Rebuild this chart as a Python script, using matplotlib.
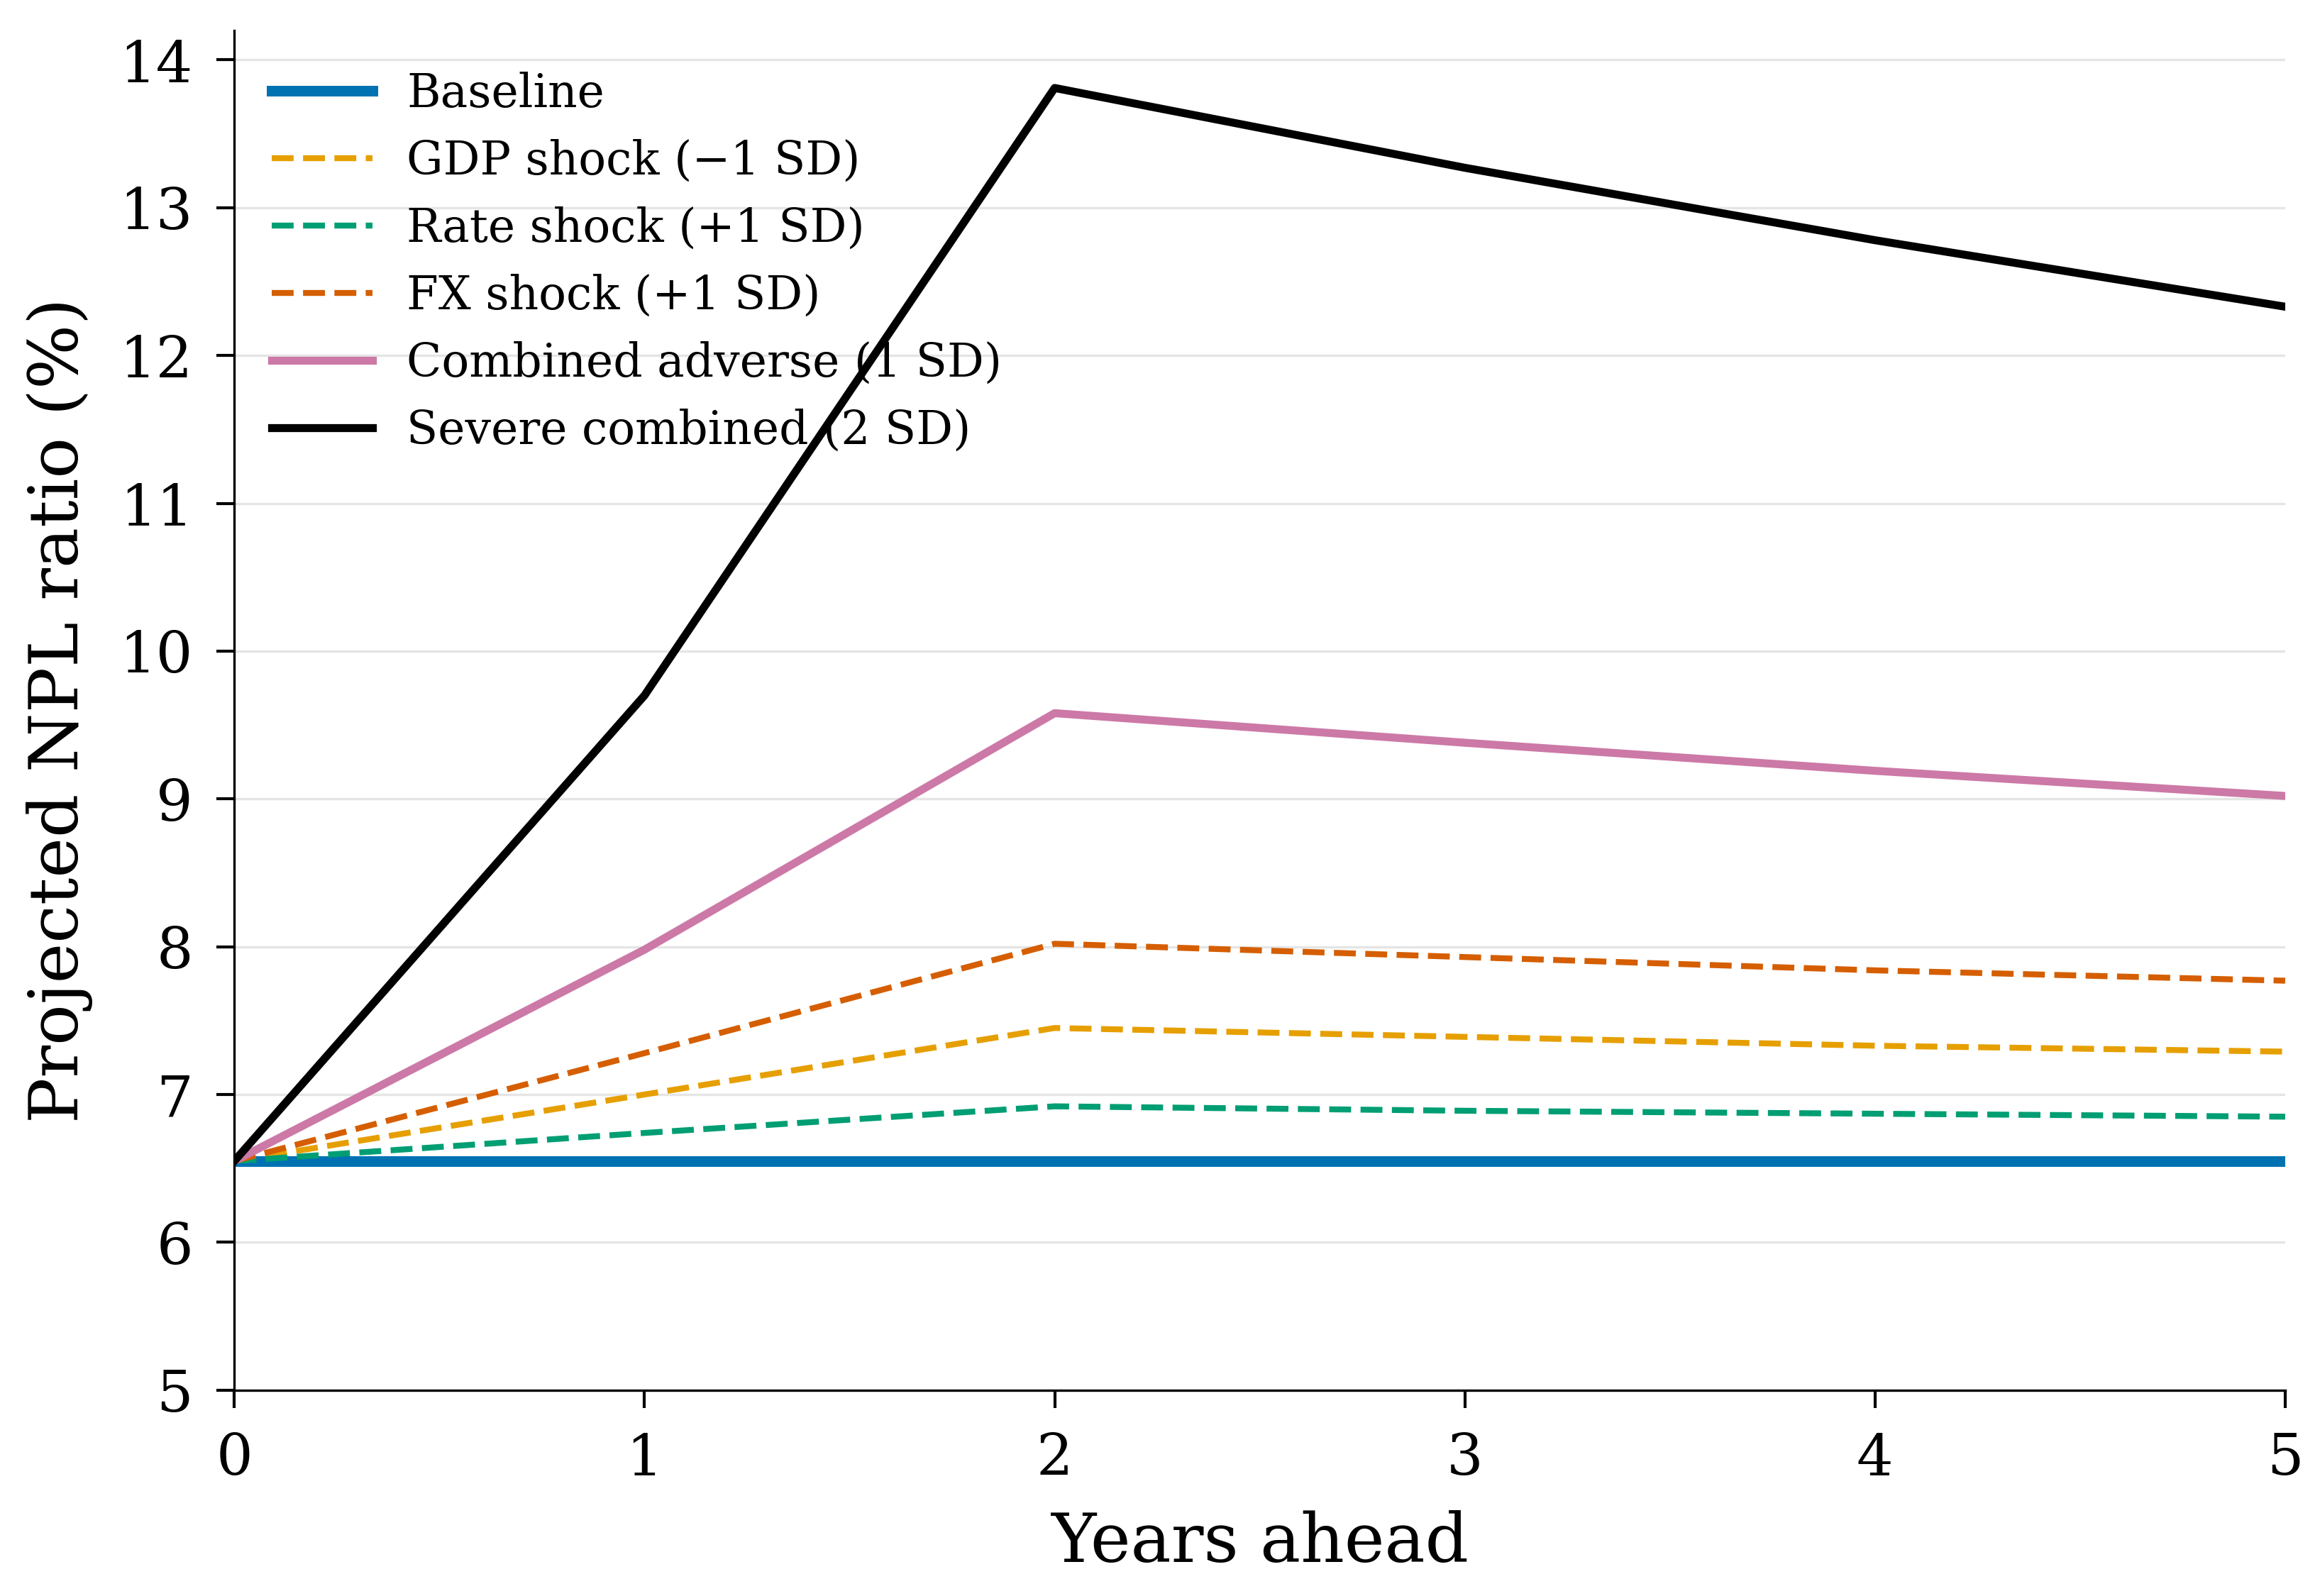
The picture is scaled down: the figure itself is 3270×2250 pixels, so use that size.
import matplotlib
matplotlib.use('Agg')
import matplotlib.pyplot as plt

# projection horizon (years ahead)
years = [0, 1, 2, 3, 4, 5]

# projected NPL ratio (%) per scenario
baseline = [6.55, 6.55, 6.55, 6.55, 6.55, 6.55]
gdp_shock = [6.55, 7.00, 7.45, 7.39, 7.33, 7.29]
rate_shock = [6.55, 6.74, 6.92, 6.89, 6.87, 6.85]
fx_shock = [6.55, 7.28, 8.02, 7.93, 7.84, 7.77]
combined = [6.55, 7.98, 9.58, 9.38, 9.19, 9.02]
severe = [6.55, 9.70, 13.81, 13.27, 12.78, 12.33]

plt.rcParams['font.family'] = 'DejaVu Serif'

fig = plt.figure(figsize=(10.9, 7.5), dpi=300)
ax = fig.add_axes([0.101, 0.129, 0.884, 0.852])

ax.plot(years, baseline, color='#0072b2', lw=3.6, label='Baseline')
ax.plot(years, gdp_shock, color='#e69f00', lw=2.0, ls='--', label='GDP shock (\u22121 SD)')
ax.plot(years, rate_shock, color='#009e73', lw=2.0, ls='--', label='Rate shock (+1 SD)')
ax.plot(years, fx_shock, color='#d55e00', lw=2.0, ls='--', label='FX shock (+1 SD)')
ax.plot(years, combined, color='#cc79a7', lw=2.7, label='Combined adverse (1 SD)')
ax.plot(years, severe, color='black', lw=2.7, label='Severe combined (2 SD)')

ax.set_xlim(0, 5)
ax.set_ylim(5, 14.2)
ax.set_yticks(range(5, 15))
ax.set_xticks(years)
ax.tick_params(labelsize=19.5, length=6, width=1, pad=8)
ax.set_xlabel('Years ahead', fontsize=23, labelpad=8)
ax.set_ylabel('Projected NPL ratio (%)', fontsize=23, labelpad=9)
ax.yaxis.grid(True, color='#e5e5e5', lw=0.8)
ax.set_axisbelow(True)
for side in ['top', 'right']:
    ax.spines[side].set_visible(False)

ax.legend(loc='upper left', frameon=False, fontsize=15.5, handlelength=2.2,
          handletextpad=0.75, labelspacing=0.48, borderaxespad=0.41,
          bbox_to_anchor=(0.0, 0.997))

fig.savefig('out.png', dpi=300)
